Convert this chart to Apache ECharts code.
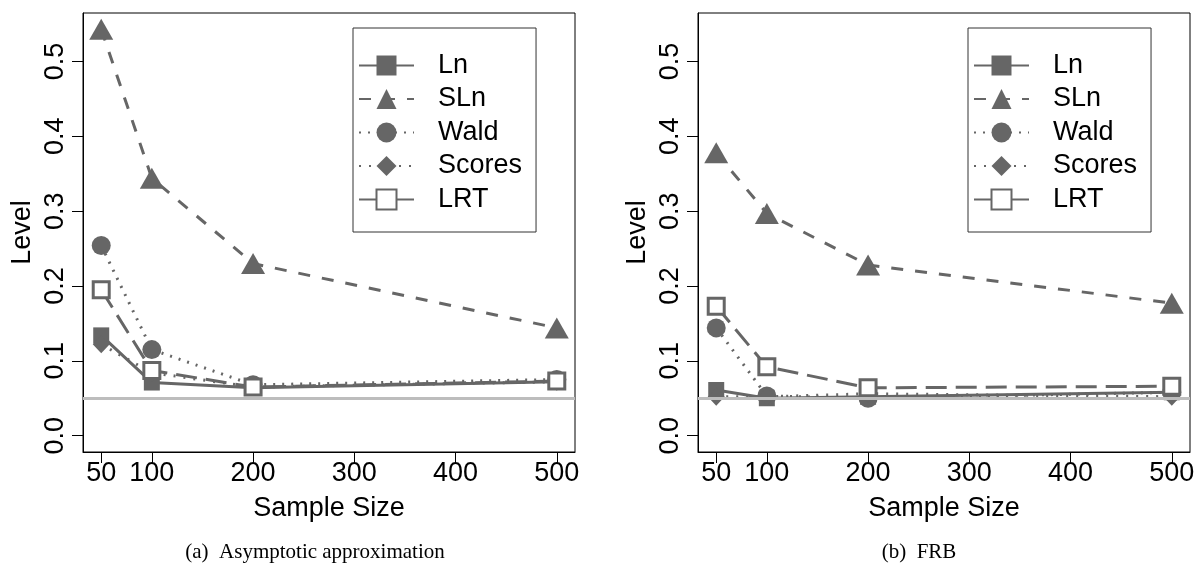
<!DOCTYPE html>
<html>
<head>
<meta charset="utf-8">
<script src="https://cdn.jsdelivr.net/npm/echarts@6/dist/echarts.min.js"></script>
<style>
html,body{margin:0;padding:0;background:#fff;}
#chart{width:1200px;height:574px;}
</style>
</head>
<body>
<div id="chart"></div>
<script>
// ---- data ----
const SIZES = [50, 100, 200, 500];
const X_TICKS = [50, 100, 200, 300, 400, 500];
const Y_TICKS = [0, 0.1, 0.2, 0.3, 0.4, 0.5];
const Y_TICK_LABELS = ['0.0', '0.1', '0.2', '0.3', '0.4', '0.5'];
const METHODS = ['Ln', 'SLn', 'Wald', 'Scores', 'LRT'];
const REF_LEVEL = 0.05;

// (a) Asymptotic approximation
const A_LN     = [0.134, 0.071, 0.064, 0.072];
const A_SLN    = [0.543, 0.344, 0.230, 0.144];
const A_WALD   = [0.254, 0.115, 0.068, 0.075];
const A_SCORES = [0.122, 0.084, 0.065, 0.072];
const A_LRT    = [0.195, 0.087, 0.065, 0.073];

// (b) FRB
const B_LN     = [0.061, 0.050, 0.052, 0.058];
const B_SLN    = [0.378, 0.297, 0.228, 0.177];
const B_WALD   = [0.144, 0.053, 0.050, 0.058];
const B_SCORES = [0.052, 0.052, 0.056, 0.052];
const B_LRT    = [0.173, 0.092, 0.064, 0.066];

const CAPTIONS = ['(a)  Asymptotic approximation', '(b)  FRB'];

// ---- styles ----
const GRAY = '#666666';
const FONT = 'Liberation Sans, Arial, sans-serif';
const STYLE = {
  Ln:     {symbol: 'rect', size: 16, dash: 'solid', fill: GRAY},
  SLn:    {symbol: 'triangle', size: [24, 21], dash: [12, 12], fill: GRAY},
  Wald:   {symbol: 'circle', size: 19, dash: [2, 7], fill: GRAY},
  Scores: {symbol: 'diamond', size: [17, 18], dash: [2, 8], fill: GRAY},
  LRT:    {symbol: 'rect', size: 16, dash: [21, 9], fill: '#ffffff', border: 3}
};

const panels = [
  {vals: {Ln: A_LN, SLn: A_SLN, Wald: A_WALD, Scores: A_SCORES, LRT: A_LRT}},
  {vals: {Ln: B_LN, SLn: B_SLN, Wald: B_WALD, Scores: B_SCORES, LRT: B_LRT}}
];

const grids = [
  {left: 83, top: 13, width: 492, height: 439},
  {left: 698, top: 13, width: 492, height: 439}
];

const xAxes = [], yAxes = [], series = [], legends = [], titles = [];
const capX = [310, 914];

grids.forEach((g, gi) => {
  g.show = true; g.borderColor = '#000'; g.borderWidth = 1; g.backgroundColor = 'transparent';
  xAxes.push({
    type: 'value', gridIndex: gi, min: 32, max: 518,
    name: 'Sample Size', nameLocation: 'middle', nameGap: 43,
    nameTextStyle: {fontFamily: FONT, fontSize: 27, color: '#000'},
    axisLine: {show: true, onZero: false, lineStyle: {color: '#000', width: 1}},
    axisTick: {show: true, length: 11, lineStyle: {color: '#000'}, customValues: X_TICKS},
    axisLabel: {fontFamily: FONT, fontSize: 27, color: '#000', margin: 8, customValues: X_TICKS},
    splitLine: {show: false}
  });
  yAxes.push({
    type: 'value', gridIndex: gi, min: -0.0218, max: 0.5647,
    name: 'Level', nameLocation: 'middle', nameGap: 47, nameRotate: 90,
    nameTextStyle: {fontFamily: FONT, fontSize: 27, color: '#000'},
    axisLine: {show: true, onZero: false, lineStyle: {color: '#000', width: 1}},
    axisTick: {show: true, length: 11, lineStyle: {color: '#000'}, customValues: Y_TICKS},
    axisLabel: {
      fontFamily: FONT, fontSize: 27, color: '#000', margin: 14, rotate: 90,
      customValues: Y_TICKS,
      formatter: v => Y_TICK_LABELS[Y_TICKS.findIndex(t => Math.abs(t - v) < 1e-9)]
    },
    splitLine: {show: false}
  });
  // reference line
  series.push({
    type: 'line', xAxisIndex: gi, yAxisIndex: gi, data: [], z: 1, silent: true,
    markLine: {
      silent: true, symbol: 'none', label: {show: false},
      lineStyle: {color: '#bdbdbd', width: 3, type: 'solid'},
      data: [{yAxis: REF_LEVEL}]
    }
  });
  METHODS.forEach(m => {
    const s = STYLE[m];
    const vals = panels[gi].vals[m];
    series.push({
      name: m, type: 'line', xAxisIndex: gi, yAxisIndex: gi, z: 3,
      data: SIZES.map((x, i) => [x, vals[i]]),
      symbol: s.symbol, symbolSize: s.size, showSymbol: true,
      lineStyle: {color: GRAY, width: 3, type: s.dash},
      itemStyle: {color: s.fill, borderColor: GRAY, borderWidth: s.border || 0, opacity: 1},
      emphasis: {disabled: true},
      animation: false
    });
  });
  legends.push({
    orient: 'vertical', left: g.left + 270, top: 28,
    borderColor: '#333', borderWidth: 1, backgroundColor: '#fff',
    padding: [24, 14, 19, 5],
    itemWidth: 55, itemHeight: 25, itemGap: 6.5,
    selectedMode: false,
    textStyle: {fontFamily: FONT, fontSize: 27, color: '#000', lineHeight: 27, padding: [0, 0, 0, 19]},
    data: METHODS.map(m => m === 'LRT' ? {name: m, lineStyle: {type: 'solid'}} : {name: m})
  });
  titles.push({
    text: CAPTIONS[gi], left: capX[gi], top: 537, textAlign: 'center',
    textStyle: {fontFamily: 'Liberation Serif, Times New Roman, serif', fontSize: 21, fontWeight: 'normal', color: '#000'}
  });
});

const chart = echarts.init(document.getElementById('chart'), null, {renderer: 'canvas'});
chart.setOption({
  animation: false,
  backgroundColor: '#fff',
  title: titles,
  grid: grids,
  xAxis: xAxes,
  yAxis: yAxes,
  legend: legends,
  series: series
});
</script>
</body>
</html>
